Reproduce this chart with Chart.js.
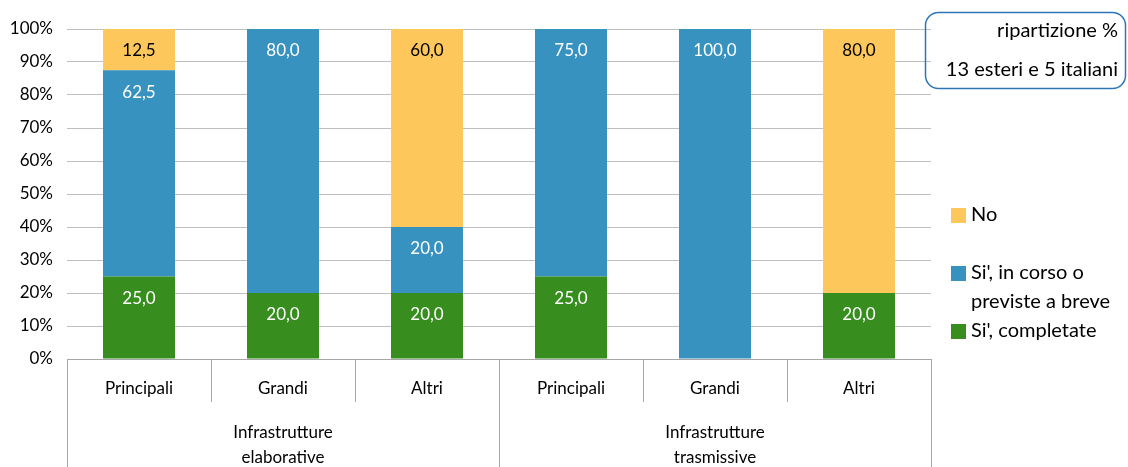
<!DOCTYPE html>
<html>
<head>
<meta charset="utf-8">
<script src="https://cdn.jsdelivr.net/npm/chart.js@4.4.1/dist/chart.umd.min.js"></script>
<style>
  body { margin: 0; background: #fff; }
  #wrap { width: 1128px; height: 467px; position: relative; }
</style>
</head>
<body>
<div id="wrap"><canvas id="chart"></canvas></div>
<script>
const categories = ['Principali', 'Grandi', 'Altri', 'Principali', 'Grandi', 'Altri'];
const groups     = [['Infrastrutture', 'elaborative'], ['Infrastrutture', 'trasmissive']];
const completate = [25, 20, 20, 25, 0, 20];
const inCorso    = [62.5, 80, 20, 75, 100, 0];
const no         = [12.5, 0, 60, 0, 0, 80];
const boxLines   = ['ripartizione %', '13 esteri e 5 italiani'];

const FONT = 'Lato, sans-serif';
const col = { green: '#378E1F', blue: '#3892C0', yellow: '#FDC75B', grid: '#BFBFBF', axis: '#A6A6A6' };

const fmt = v => v.toFixed(1).replace('.', ',');

const barLabels = {
  id: 'barLabels',
  afterDatasetsDraw(chart) {
    const ctx = chart.ctx;
    ctx.save();
    ctx.font = '17px ' + FONT;
    ctx.textAlign = 'center';
    ctx.textBaseline = 'middle';
    chart.data.datasets.forEach((ds, di) => {
      const meta = chart.getDatasetMeta(di);
      meta.data.forEach((bar, i) => {
        const v = ds.data[i];
        if (!v) return;
        ctx.fillStyle = ds.labelColor;
        const top = Math.min(bar.y, bar.base);
        ctx.fillText(fmt(v), bar.x, top + 22);
      });
    });
    ctx.restore();
  }
};

const categoryAxis = {
  id: 'categoryAxis',
  afterDraw(chart) {
    const ctx = chart.ctx;
    const x = chart.scales.x;
    const a = chart.chartArea;
    const step = (a.right - a.left) / categories.length;
    ctx.save();
    ctx.strokeStyle = col.axis;
    ctx.lineWidth = 1;
    // baseline
    ctx.beginPath();
    ctx.moveTo(a.left, a.bottom + 0.5);
    ctx.lineTo(a.right, a.bottom + 0.5);
    ctx.stroke();
    // separators
    for (let i = 0; i <= categories.length; i++) {
      const px = Math.round(a.left + i * step) + 0.5;
      const long = i % 3 === 0;
      ctx.beginPath();
      ctx.moveTo(px, a.bottom);
      ctx.lineTo(px, long ? chart.height : a.bottom + 43);
      ctx.stroke();
    }
    ctx.fillStyle = '#000';
    ctx.font = '17px ' + FONT;
    ctx.textAlign = 'center';
    ctx.textBaseline = 'middle';
    categories.forEach((c, i) => ctx.fillText(c, x.getPixelForValue(i), a.bottom + 30));
    groups.forEach((g, gi) => {
      const cx = a.left + (gi * 3 + 1.5) * step;
      g.forEach((line, li) => ctx.fillText(line, cx, a.bottom + 74 + li * 25));
    });
    ctx.restore();
  }
};

const sideLegend = {
  id: 'sideLegend',
  afterDraw(chart) {
    const ctx = chart.ctx;
    ctx.save();
    // box top-right
    ctx.strokeStyle = '#2E75B6';
    ctx.lineWidth = 1.5;
    ctx.beginPath();
    ctx.roundRect(925.5, 12.5, 200, 76, 13);
    ctx.stroke();
    ctx.fillStyle = '#000';
    ctx.font = '20px ' + FONT;
    ctx.textAlign = 'right';
    ctx.textBaseline = 'middle';
    ctx.fillText(boxLines[0], 1118, 31);
    ctx.fillText(boxLines[1], 1118, 70);
    // legend
    const items = [
      { color: col.yellow, lines: ['No'], y: 215 },
      { color: col.blue, lines: ["Si', in corso o", 'previste a breve'], y: 273 },
      { color: col.green, lines: ["Si', completate"], y: 331 }
    ];
    ctx.textAlign = 'left';
    items.forEach(it => {
      ctx.fillStyle = it.color;
      ctx.fillRect(951, it.y - 7, 15, 15);
      ctx.fillStyle = '#000';
      it.lines.forEach((l, li) => ctx.fillText(l, 971, it.y + li * 29));
    });
    ctx.restore();
  }
};

new Chart(document.getElementById('chart'), {
  type: 'bar',
  data: {
    labels: categories,
    datasets: [
      { label: "Si', completate", data: completate, backgroundColor: col.green, labelColor: '#fff' },
      { label: "Si', in corso o previste a breve", data: inCorso, backgroundColor: col.blue, labelColor: '#fff' },
      { label: 'No', data: no, backgroundColor: col.yellow, labelColor: '#000' }
    ]
  },
  options: {
    responsive: true, maintainAspectRatio: false, animation: false,
    layout: { padding: { top: 29, right: 197, bottom: 108, left: 0 } },
    datasets: { bar: { barPercentage: 0.5, categoryPercentage: 1, borderWidth: 0 } },
    plugins: { legend: { display: false }, tooltip: { enabled: false } },
    scales: {
      x: { stacked: true, display: false },
      y: {
        stacked: true, min: 0, max: 100,
        afterFit: s => { s.width = 67; },
        border: { display: false },
        grid: { color: col.grid, drawTicks: false },
        ticks: { stepSize: 10, padding: 14, color: '#000', font: { family: FONT, size: 17 }, callback: v => v + '%' }
      }
    }
  },
  plugins: [barLabels, categoryAxis, sideLegend]
});
</script>
</body>
</html>
